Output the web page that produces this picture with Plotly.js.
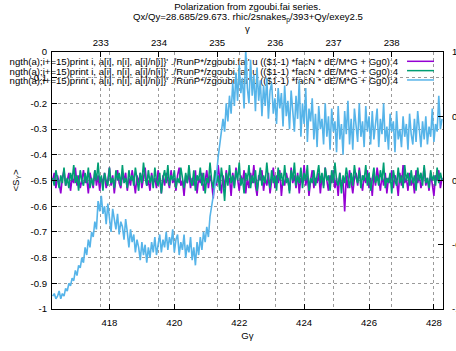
<!DOCTYPE html>
<html>
<head>
<meta charset="utf-8">
<script src="https://cdn.plot.ly/plotly-3.0.1.min.js"></script>
<style>html,body{margin:0;padding:0;background:#fff;}#plot{width:456px;height:351px;}</style>
</head>
<body>
<div id="plot"></div>
<script>
// ---- data ----
const G = 1.792847;               // proton anomaly, Ggamma -> gamma
const xStart = 416.25;            // first Ggamma sample
const xStep = 0.05;               // Ggamma spacing of samples
const xRange = [416.23, 428.28];
const xTicks = [418, 420, 422, 424, 426, 428];
const gammaTicks = [233, 234, 235, 236, 237, 238];
const yTickVals = [0, -0.1, -0.2, -0.3, -0.4, -0.5, -0.6, -0.7, -0.8, -0.9, -1];
const yTickText = ["0", "-0.1", "-0.2", "-0.3", "-0.4", "-0.5", "-0.6", "-0.7", "-0.8", "-0.9", "-1"];
const y2TickVals = [1, 0.5, 0, -0.5, -1];
const y2TickText = ["1", "0.5", "0", "-0.5", "-1"];
const legendText = "ngth(a);i+=15)print i, a[i], n[i], a[i]/n[i]}' ./RunP*/zgoubi.fai' u (($1-1) *facN * dE/M*G + Gg0):4";
const seriesColors = ["#9400d3", "#009e73", "#56b4e9"];

const purpleS = [
-0.50,-0.47,-0.53,-0.48,-0.51,-0.55,-0.49,-0.46,-0.52,-0.50,
-0.47,-0.54,-0.49,-0.51,-0.45,-0.52,-0.48,-0.53,-0.50,-0.46,
-0.51,-0.49,-0.55,-0.47,-0.50,-0.53,-0.46,-0.52,-0.48,-0.54,
-0.49,-0.51,-0.47,-0.53,-0.50,-0.45,-0.52,-0.48,-0.55,-0.49,
-0.46,-0.51,-0.53,-0.48,-0.50,-0.47,-0.54,-0.49,-0.52,-0.46,
-0.50,-0.55,-0.48,-0.51,-0.47,-0.53,-0.49,-0.45,-0.52,-0.50,
-0.54,-0.47,-0.51,-0.49,-0.53,-0.46,-0.50,-0.55,-0.48,-0.52,
-0.47,-0.50,-0.53,-0.46,-0.51,-0.49,-0.54,-0.48,-0.45,-0.52,
-0.50,-0.56,-0.48,-0.51,-0.47,-0.53,-0.49,-0.52,-0.46,-0.55,
-0.49,-0.51,-0.47,-0.54,-0.50,-0.46,-0.53,-0.48,-0.51,-0.57,
-0.47,-0.52,-0.44,-0.50,-0.55,-0.48,-0.53,-0.46,-0.51,-0.49,
-0.56,-0.47,-0.52,-0.45,-0.50,-0.54,-0.48,-0.51,-0.46,-0.55,
-0.49,-0.53,-0.47,-0.51,-0.44,-0.52,-0.56,-0.48,-0.50,-0.46,
-0.54,-0.49,-0.52,-0.47,-0.55,-0.50,-0.45,-0.53,-0.48,-0.51,
-0.46,-0.56,-0.49,-0.52,-0.47,-0.50,-0.54,-0.45,-0.51,-0.48,
-0.53,-0.47,-0.55,-0.49,-0.51,-0.44,-0.52,-0.48,-0.56,-0.50,
-0.46,-0.53,-0.49,-0.51,-0.47,-0.55,-0.48,-0.52,-0.45,-0.50,
-0.54,-0.48,-0.51,-0.46,-0.53,-0.49,-0.56,-0.47,-0.52,-0.50,
-0.62,-0.48,-0.53,-0.46,-0.51,-0.55,-0.49,-0.47,-0.52,-0.45,
-0.50,-0.54,-0.48,-0.51,-0.46,-0.53,-0.49,-0.56,-0.47,-0.52,
-0.45,-0.50,-0.54,-0.48,-0.52,-0.47,-0.55,-0.49,-0.51,-0.46,
-0.53,-0.48,-0.50,-0.56,-0.47,-0.52,-0.44,-0.51,-0.49,-0.54,
-0.47,-0.52,-0.49,-0.55,-0.46,-0.51,-0.48,-0.53,-0.50,-0.45,
-0.52,-0.49,-0.54,-0.47,-0.51,-0.56,-0.48,-0.50,-0.46,-0.53,
-0.49];

const greenS = [
-0.49,-0.52,-0.46,-0.50,-0.53,-0.48,-0.51,-0.45,-0.52,-0.49,
-0.53,-0.47,-0.50,-0.44,-0.51,-0.48,-0.54,-0.46,-0.50,-0.52,
-0.47,-0.51,-0.45,-0.53,-0.49,-0.52,-0.46,-0.50,-0.43,-0.51,
-0.48,-0.54,-0.47,-0.50,-0.52,-0.45,-0.51,-0.49,-0.53,-0.46,
-0.50,-0.47,-0.52,-0.44,-0.51,-0.49,-0.53,-0.46,-0.50,-0.48,
-0.52,-0.45,-0.50,-0.54,-0.47,-0.51,-0.43,-0.49,-0.52,-0.46,
-0.51,-0.48,-0.53,-0.45,-0.50,-0.52,-0.47,-0.55,-0.49,-0.46,
-0.51,-0.44,-0.52,-0.48,-0.50,-0.46,-0.53,-0.49,-0.51,-0.45,
-0.49,-0.53,-0.47,-0.51,-0.44,-0.50,-0.52,-0.46,-0.54,-0.48,
-0.50,-0.45,-0.52,-0.47,-0.55,-0.49,-0.51,-0.43,-0.50,-0.53,
-0.46,-0.51,-0.48,-0.54,-0.45,-0.50,-0.58,-0.47,-0.52,-0.44,
-0.51,-0.48,-0.53,-0.46,-0.50,-0.43,-0.52,-0.49,-0.55,-0.47,
-0.50,-0.44,-0.53,-0.48,-0.51,-0.46,-0.54,-0.49,-0.45,-0.52,
-0.48,-0.51,-0.43,-0.50,-0.53,-0.46,-0.51,-0.48,-0.54,-0.45,
-0.50,-0.47,-0.52,-0.44,-0.51,-0.49,-0.55,-0.46,-0.50,-0.43,
-0.52,-0.48,-0.51,-0.45,-0.53,-0.47,-0.50,-0.44,-0.54,-0.49,
-0.51,-0.46,-0.52,-0.48,-0.44,-0.51,-0.47,-0.53,-0.45,-0.50,
-0.48,-0.54,-0.46,-0.51,-0.43,-0.50,-0.52,-0.47,-0.55,-0.48,
-0.51,-0.45,-0.50,-0.53,-0.47,-0.52,-0.44,-0.49,-0.51,-0.46,
-0.53,-0.48,-0.50,-0.44,-0.52,-0.47,-0.54,-0.49,-0.45,-0.51,
-0.48,-0.52,-0.46,-0.50,-0.43,-0.53,-0.49,-0.51,-0.47,-0.55,
-0.46,-0.50,-0.52,-0.45,-0.51,-0.48,-0.53,-0.44,-0.50,-0.47,
-0.52,-0.46,-0.51,-0.48,-0.54,-0.45,-0.50,-0.47,-0.52,-0.44,
-0.51,-0.49,-0.53,-0.46,-0.50,-0.48,-0.52,-0.45,-0.51,-0.47,
-0.50];

const blueS = [
-0.95,-0.94,-0.96,-0.95,-0.93,-0.96,-0.94,-0.95,-0.92,-0.93,
-0.90,-0.91,-0.88,-0.89,-0.85,-0.87,-0.83,-0.84,-0.80,-0.82,
-0.76,-0.79,-0.73,-0.76,-0.70,-0.72,-0.66,-0.69,-0.58,-0.62,
-0.56,-0.63,-0.60,-0.67,-0.59,-0.64,-0.70,-0.61,-0.66,-0.69,
-0.63,-0.71,-0.66,-0.68,-0.73,-0.65,-0.70,-0.76,-0.69,-0.74,
-0.71,-0.78,-0.73,-0.76,-0.81,-0.74,-0.79,-0.75,-0.82,-0.76,
-0.80,-0.74,-0.78,-0.72,-0.79,-0.75,-0.71,-0.78,-0.73,-0.76,
-0.70,-0.77,-0.72,-0.75,-0.69,-0.78,-0.73,-0.71,-0.79,-0.74,
-0.77,-0.71,-0.80,-0.75,-0.78,-0.72,-0.81,-0.76,-0.83,-0.74,
-0.79,-0.72,-0.77,-0.70,-0.74,-0.68,-0.72,-0.64,-0.60,-0.56,
-0.52,-0.48,-0.41,-0.36,-0.32,-0.26,-0.31,-0.20,-0.27,-0.17,
-0.24,-0.12,-0.21,-0.08,-0.19,-0.05,-0.16,-0.10,-0.22, 0.01,
-0.14,-0.20,-0.03,-0.17,-0.09,-0.23,-0.06,-0.19,-0.11,-0.25,
-0.13,-0.21,-0.10,-0.26,-0.15,-0.12,-0.24,-0.18,-0.28,-0.14,
-0.22,-0.16,-0.29,-0.13,-0.25,-0.19,-0.30,-0.15,-0.23,-0.31,
-0.17,-0.26,-0.11,-0.33,-0.20,-0.28,-0.14,-0.35,-0.22,-0.27,
-0.18,-0.34,-0.24,-0.37,-0.21,-0.30,-0.26,-0.36,-0.20,-0.33,
-0.25,-0.38,-0.22,-0.31,-0.27,-0.39,-0.21,-0.34,-0.28,-0.40,
-0.23,-0.32,-0.19,-0.36,-0.26,-0.38,-0.22,-0.30,-0.35,-0.20,
-0.33,-0.27,-0.37,-0.21,-0.31,-0.25,-0.36,-0.23,-0.34,-0.28,
-0.22,-0.37,-0.26,-0.32,-0.20,-0.35,-0.29,-0.38,-0.24,-0.31,
-0.27,-0.39,-0.23,-0.34,-0.30,-0.37,-0.25,-0.33,-0.28,-0.38,
-0.24,-0.32,-0.36,-0.26,-0.35,-0.23,-0.31,-0.37,-0.27,-0.34,
-0.25,-0.36,-0.29,-0.33,-0.22,-0.35,-0.28,-0.31,-0.17,-0.30,
-0.26];

// ---- chart ----
const FONT = "Liberation Sans, Arial, Helvetica, sans-serif";
const FS = 9.6;
const series = [purpleS, greenS, blueS];
const traces = series.map((s, k) => ({
  type: "scatter", mode: "lines",
  x0: xStart, dx: xStep, y: s,
  xaxis: "x", yaxis: "y",
  line: {color: seriesColors[k], width: 1.6},
  showlegend: false, hoverinfo: "skip"
}));
// invisible helper traces so the gamma (top) and right axes are drawn
traces.push({type: "scatter", mode: "lines", x: [xRange[0] / G, xRange[1] / G], y: [null, null],
  xaxis: "x2", yaxis: "y", showlegend: false, hoverinfo: "skip"});
traces.push({type: "scatter", mode: "lines", x: xRange, y: [null, null],
  xaxis: "x", yaxis: "y2", showlegend: false, hoverinfo: "skip"});

const gridStyle = {showgrid: true, gridcolor: "#9a9a9a", griddash: "dot", gridwidth: 1};
const legendY = [0.9638, 0.9275, 0.8912];
const annotations = [{
  text: "Qx/Qy=28.685/29.673. rhic/2snakes<sub>p</sub>/393+Qy/exey2.5",
  xref: "paper", yref: "paper", x: 0.5, y: 1.1336, xanchor: "center", yanchor: "middle",
  showarrow: false, font: {family: FONT, size: FS, color: "#000"}
}];
const shapes = [];
legendY.forEach((yy, k) => {
  // key text sits under the data, as in the original
  shapes.push({type: "rect", xref: "paper", yref: "paper", x0: -0.4, x1: 0.8926,
    y0: yy - 0.02, y1: yy + 0.02, layer: "between",
    line: {width: 0}, fillcolor: "rgba(0,0,0,0)",
    label: {text: legendText, textposition: "middle right", padding: 0,
      font: {family: FONT, size: FS, color: "#000"}}});
  shapes.push({type: "line", xref: "paper", yref: "paper", x0: 0.908, x1: 0.977, y0: yy, y1: yy,
    line: {color: seriesColors[k], width: 1.5}});
});

const layout = {
  width: 456, height: 351,
  margin: {l: 52, r: 13, t: 52, b: 37, pad: 0},
  paper_bgcolor: "#fff", plot_bgcolor: "#fff",
  font: {family: FONT, size: FS, color: "#000"},
  showlegend: false,
  title: {text: "Polarization from zgoubi.fai series.", x: 0.5, xref: "paper",
    y: 0.99, yref: "container", yanchor: "top", font: {family: FONT, size: FS, color: "#000"}},
  xaxis: Object.assign({
    range: xRange, tickvals: xTicks, ticks: "inside", ticklen: 5, tickcolor: "#000",
    showline: true, linecolor: "#000", linewidth: 1, mirror: true, zeroline: false,
    automargin: true,
    title: {text: "Gγ", standoff: 5, font: {family: FONT, size: FS}},
    ticklabelstandoff: 4
  }, gridStyle),
  xaxis2: Object.assign({
    overlaying: "x", side: "top", anchor: "y",
    range: [xRange[0] / G, xRange[1] / G], tickvals: gammaTicks,
    ticks: "inside", ticklen: 5, tickcolor: "#000", zeroline: false,
    automargin: true,
    title: {text: "γ", standoff: 2, font: {family: FONT, size: FS}},
    ticklabelstandoff: 3
  }, gridStyle),
  yaxis: Object.assign({
    range: [-1, 0], tickvals: yTickVals, ticktext: yTickText,
    ticks: "inside", ticklen: 5, tickcolor: "#000",
    showline: true, linecolor: "#000", linewidth: 1, mirror: true, zeroline: false,
    automargin: true,
    title: {text: "&lt;S<sub>Y</sub>&gt;", standoff: 9, font: {family: FONT, size: FS}},
    ticklabelstandoff: 2
  }, gridStyle),
  yaxis2: {
    overlaying: "y", side: "right", anchor: "x",
    range: [-1, 1], tickvals: y2TickVals, ticktext: y2TickText,
    ticks: "inside", ticklen: 5, tickcolor: "#000", showgrid: false, zeroline: false,
    ticklabelstandoff: 8
  },
  annotations: annotations,
  shapes: shapes
};

Plotly.newPlot("plot", traces, layout, {staticPlot: true, displayModeBar: false});
</script>
</body>
</html>
